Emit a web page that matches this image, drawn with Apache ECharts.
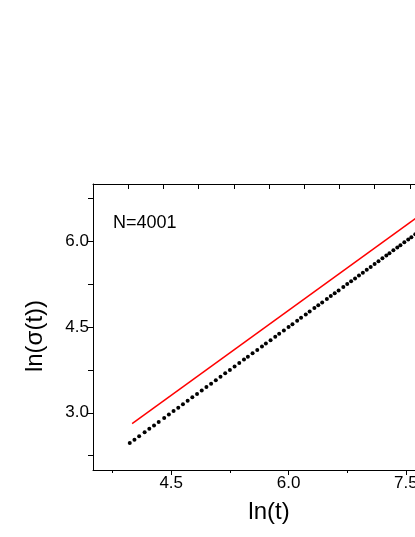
<!DOCTYPE html>
<html>
<head>
<meta charset="utf-8">
<script src="https://cdn.jsdelivr.net/npm/echarts@6/dist/echarts.min.js"></script>
<style>
    html, body { margin: 0; padding: 0; background: #fff; overflow: hidden; }
    #main { width: 480px; height: 537px; }
</style>
</head>
<body>
<div id="main"></div>
<script>
// ln(t) of the simulated points (black dots)
var lnT = [3.97, 4.03, 4.09, 4.16, 4.22, 4.28, 4.34, 4.41, 4.47, 4.53, 4.59, 4.65, 4.71, 4.77,
    4.83, 4.89, 4.95, 5.01, 5.07, 5.13, 5.19, 5.25, 5.31, 5.37, 5.43, 5.48, 5.54, 5.60, 5.66,
    5.71, 5.77, 5.83, 5.88, 5.94, 6.00, 6.05, 6.11, 6.16, 6.22, 6.27, 6.33, 6.38, 6.43, 6.49,
    6.54, 6.59, 6.64, 6.70, 6.75, 6.80, 6.85, 6.90, 6.95, 7.00, 7.05, 7.10, 7.15, 7.20, 7.25,
    7.29, 7.34, 7.39, 7.43, 7.48, 7.53, 7.57, 7.62, 7.66, 7.71, 7.75, 7.80, 7.84, 7.89, 7.93];
// ln(sigma(t)) of the same points
var lnSigma = [2.47, 2.53, 2.59, 2.66, 2.72, 2.78, 2.84, 2.91, 2.97, 3.03, 3.09, 3.15, 3.21, 3.27,
    3.33, 3.39, 3.45, 3.51, 3.57, 3.63, 3.69, 3.75, 3.81, 3.87, 3.93, 3.98, 4.04, 4.10, 4.16,
    4.21, 4.27, 4.33, 4.38, 4.44, 4.50, 4.55, 4.61, 4.66, 4.72, 4.77, 4.83, 4.88, 4.93, 4.99,
    5.04, 5.09, 5.14, 5.20, 5.25, 5.30, 5.35, 5.40, 5.45, 5.50, 5.55, 5.60, 5.65, 5.70, 5.75,
    5.79, 5.84, 5.89, 5.93, 5.98, 6.03, 6.07, 6.12, 6.16, 6.21, 6.25, 6.30, 6.34, 6.39, 6.43];
// red reference line
var fitX = [4.0, 8.0];
var fitY = [2.81, 6.77];

var xMajor = [4.5, 6.0, 7.5];
var xMinor = [3.75, 5.25, 6.75];
var yMajor = [3.0, 4.5, 6.0];
var yMinor = [2.25, 3.75, 5.25, 6.75];

var font = 'Arial, "Liberation Sans", sans-serif';

var dots = lnT.map(function (x, i) { return [x, lnSigma[i]]; });
var fit = fitX.map(function (x, i) { return [x, fitY[i]]; });

var option = {
    animation: false,
    backgroundColor: '#fff',
    title: {
        text: 'N=4001',
        left: 108,
        top: 209,
        textStyle: { fontFamily: font, fontSize: 18, fontWeight: 'normal', color: '#000' }
    },
    grid: { left: 93, top: 184, right: 35, bottom: 67 },
    xAxis: [
        {
            type: 'value',
            min: 3.5,
            max: 8.0,
            position: 'bottom',
            name: 'ln(t)',
            nameLocation: 'middle',
            nameGap: 30,
            nameTextStyle: { fontFamily: font, fontSize: 24, color: '#000' },
            axisLine: { lineStyle: { color: '#000', width: 1 } },
            axisTick: { show: true, inside: false, length: 5, customValues: xMajor, lineStyle: { color: '#000' } },
            axisLabel: {
                fontFamily: font, fontSize: 17, color: '#000', margin: 5,
                customValues: xMajor,
                formatter: function (v) { return v.toFixed(1); }
            },
            splitLine: { show: false }
        },
        {
            type: 'value',
            min: 3.5,
            max: 8.0,
            position: 'bottom',
            axisLine: { show: false },
            axisTick: { show: true, length: 3, customValues: xMinor, lineStyle: { color: '#000' } },
            axisLabel: { show: false },
            splitLine: { show: false }
        },
        {
            type: 'value',
            min: 0,
            max: 10,
            interval: 1,
            position: 'top',
            axisLine: { lineStyle: { color: '#000', width: 1 } },
            axisTick: { show: true, inside: true, length: 5, lineStyle: { color: '#000' } },
            axisLabel: { show: false },
            splitLine: { show: false }
        }
    ],
    yAxis: [
        {
            type: 'value',
            min: 2.0,
            max: 7.0,
            position: 'left',
            name: 'ln(σ(t))',
            nameLocation: 'middle',
            nameGap: 46,
            nameTextStyle: { fontFamily: font, fontSize: 24, color: '#000', padding: [0, 18, 0, 0] },
            axisLine: { show: true, lineStyle: { color: '#000', width: 1 } },
            axisTick: { show: true, length: 5, customValues: yMajor.concat(yMinor), lineStyle: { color: '#000' } },
            axisLabel: {
                fontFamily: font, fontSize: 17, color: '#000', margin: 4,
                customValues: yMajor,
                formatter: function (v) { return v.toFixed(1); }
            },
            splitLine: { show: false }
        },
        {
            type: 'value',
            min: 2.0,
            max: 7.0,
            position: 'right',
            axisLine: { show: true, lineStyle: { color: '#000', width: 1 } },
            axisTick: { show: false },
            axisLabel: { show: false },
            splitLine: { show: false }
        }
    ],
    series: [
        {
            type: 'line',
            data: fit,
            showSymbol: false,
            symbol: 'none',
            lineStyle: { color: '#ff0000', width: 1.5 },
            z: 2
        },
        {
            type: 'scatter',
            data: dots,
            symbol: 'circle',
            symbolSize: 4,
            itemStyle: { color: '#000', opacity: 1 },
            z: 3
        }
    ]
};

var myChart = echarts.init(document.getElementById('main'));
myChart.setOption(option);
</script>
</body>
</html>
